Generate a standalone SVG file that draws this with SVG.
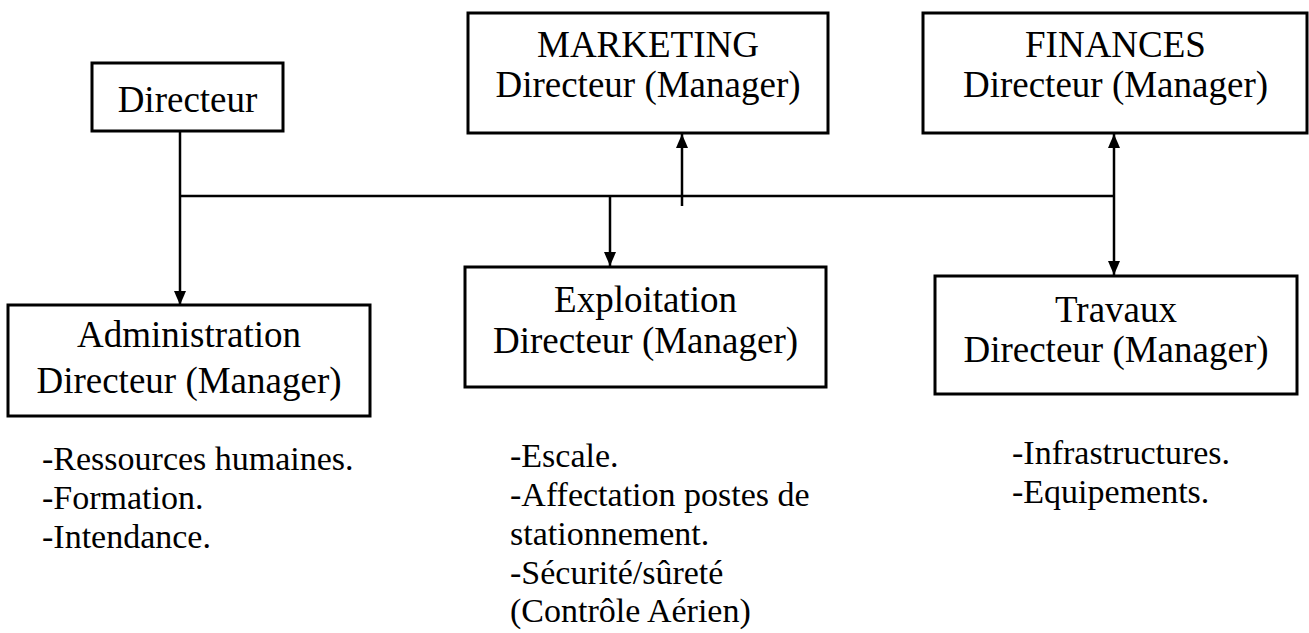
<svg xmlns="http://www.w3.org/2000/svg" width="1309" height="633" viewBox="0 0 1309 633">
<style>
.box{fill:#fff;stroke:#000;stroke-width:3}
.t{font-family:"Liberation Serif","Times New Roman",serif;font-size:37px;fill:#000;text-anchor:middle}
.l{font-family:"Liberation Serif","Times New Roman",serif;font-size:34px;fill:#000}
.c{fill:none;stroke:#000;stroke-width:2.5}
</style>
<defs>
<marker id="ah" viewBox="0 0 14 12" refX="14" refY="6" markerWidth="14" markerHeight="12" markerUnits="userSpaceOnUse" orient="auto-start-reverse">
<path d="M0,0 L14,6 L0,12 Z" fill="#000"/>
</marker>
</defs>
<rect width="1309" height="633" fill="#fff"/>
<g id="connectors">
<line class="c" x1="180" y1="131" x2="180" y2="305" marker-end="url(#ah)"/>
<line class="c" x1="180" y1="196" x2="1114" y2="196"/>
<line class="c" x1="610" y1="196" x2="610" y2="266" marker-end="url(#ah)"/>
<line class="c" x1="682" y1="206" x2="682" y2="134" marker-end="url(#ah)"/>
<line class="c" x1="1114" y1="134" x2="1114" y2="275" marker-start="url(#ah)" marker-end="url(#ah)"/>
</g>
<g id="directeur">
<rect class="box" x="92" y="63" width="191" height="68"/>
<text class="t" x="187.5" y="112">Directeur</text>
</g>
<g id="marketing">
<rect class="box" x="468" y="13" width="360" height="120"/>
<text class="t" x="648" y="57">MARKETING</text>
<text class="t" x="648" y="97">Directeur (Manager)</text>
</g>
<g id="finances">
<rect class="box" x="923" y="13" width="384" height="120"/>
<text class="t" x="1115.5" y="57">FINANCES</text>
<text class="t" x="1115.5" y="97">Directeur (Manager)</text>
</g>
<g id="administration">
<rect class="box" x="8" y="305" width="362" height="111"/>
<text class="t" x="189" y="347">Administration</text>
<text class="t" x="189" y="393">Directeur (Manager)</text>
</g>
<g id="exploitation">
<rect class="box" x="465" y="267" width="361" height="120"/>
<text class="t" x="645.5" y="312">Exploitation</text>
<text class="t" x="645.5" y="353">Directeur (Manager)</text>
</g>
<g id="travaux">
<rect class="box" x="935" y="276" width="362" height="118"/>
<text class="t" x="1116" y="322">Travaux</text>
<text class="t" x="1116" y="362">Directeur (Manager)</text>
</g>
<g id="admin-list">
<text class="l" x="42" y="470">-Ressources humaines.</text>
<text class="l" x="42" y="509">-Formation.</text>
<text class="l" x="42" y="548">-Intendance.</text>
</g>
<g id="exploitation-list">
<text class="l" x="510" y="467">-Escale.</text>
<text class="l" x="510" y="506">-Affectation postes de</text>
<text class="l" x="510" y="545">stationnement.</text>
<text class="l" x="510" y="584">-Sécurité/sûreté</text>
<text class="l" x="510" y="622">(Contrôle Aérien)</text>
</g>
<g id="travaux-list">
<text class="l" x="1012" y="464">-Infrastructures.</text>
<text class="l" x="1012" y="503">-Equipements.</text>
</g>
</svg>
